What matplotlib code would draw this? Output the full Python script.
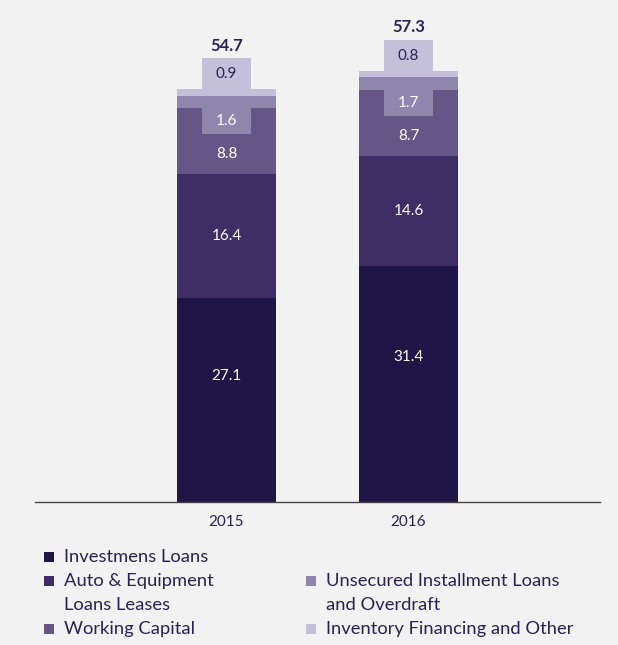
import matplotlib.pyplot as plt
from matplotlib.patches import Rectangle

# loan portfolio by segment, billions
years = ['2015', '2016']
investment_loans = [27.1, 31.4]
auto_equipment = [16.4, 14.6]
working_capital = [8.8, 8.7]
unsecured_installment = [1.6, 1.7]
inventory_other = [0.9, 0.8]
totals = [54.7, 57.3]

series = [investment_loans, auto_equipment, working_capital,
          unsecured_installment, inventory_other]
colors = ['#1f1547', '#3d2e66', '#645787', '#8f86ae', '#c5c0d9']
text_colors = ['white', 'white', 'white', 'white', '#2a2152']
legend_labels = ['Investmens Loans', 'Auto & Equipment\nLoans Leases', 'Working Capital',
                 'Unsecured Installment Loans\nand Overdraft', 'Inventory Financing and Other']

plt.rcParams['font.family'] = ['Lato', 'DejaVu Sans']
bg = '#f2f2f2'
ink = '#2a2152'

fig = plt.figure(figsize=(6.18, 6.45), dpi=100, facecolor=bg)
W, H = 618, 645
ax = fig.add_axes([35 / W, (H - 502) / H, 565 / W, 482 / H], facecolor=bg)

x = [0, 1]
width = 0.544
box_w = 0.27
low_box = 3.4   # label box under the unsecured segment
top_box = 4.1   # label box on top of the stack

bottoms = [0.0, 0.0]
for i, vals in enumerate(series):
    ax.bar(x, vals, width, bottom=bottoms, color=colors[i], linewidth=0)
    for j, v in enumerate(vals):
        b = bottoms[j]
        if i == 0:
            ax.text(x[j], b + v * 0.615, f'{v}', ha='center', va='center',
                    color=text_colors[i], fontsize=11)
        elif i == 1:
            ax.text(x[j], b + v / 2, f'{v}', ha='center', va='center',
                    color=text_colors[i], fontsize=11)
        elif i == 2:
            # centre in the part left visible below the unsecured label box
            y_mid = (b + (b + v - low_box)) / 2
            ax.text(x[j], y_mid, f'{v}', ha='center', va='center',
                    color=text_colors[i], fontsize=11)
        elif i == 3:
            ax.add_patch(Rectangle((x[j] - box_w / 2, b - low_box), box_w, low_box,
                                   color=colors[i], linewidth=0))
            ax.text(x[j], b - low_box / 2, f'{v}', ha='center', va='center',
                    color=text_colors[i], fontsize=11)
        else:
            top = b + v
            ax.add_patch(Rectangle((x[j] - box_w / 2, top), box_w, top_box,
                                   color=colors[i], linewidth=0))
            ax.text(x[j], top + top_box / 2, f'{v}', ha='center', va='center',
                    color=text_colors[i], fontsize=11)
        bottoms[j] += v

for j, t in enumerate(totals):
    ax.text(x[j], t + top_box + 1.7, f'{t}', ha='center', va='center',
            color=ink, fontsize=12, fontweight='bold')

ax.set_xlim(-1.052, 2.052)
ax.set_ylim(0, 64.0)
ax.set_xticks(x)
ax.set_xticklabels(years, fontsize=11, color=ink)
ax.tick_params(axis='x', length=0, pad=9)
ax.set_yticks([])
for s in ['top', 'right', 'left']:
    ax.spines[s].set_visible(False)
ax.spines['bottom'].set_color('#444444')
ax.spines['bottom'].set_linewidth(1.0)

# legend drawn by hand in two columns, one text per line
row_y = [557, 581, 605, 629]
legend_slots = [(44, 0), (44, 1), (44, 3), (306, 1), (306, 3)]
for (lx, r), c, lab in zip(legend_slots, colors, legend_labels):
    ly = row_y[r]
    fig.patches.append(Rectangle((lx / W, (H - ly - 5) / H), 10 / W, 10 / H,
                                 transform=fig.transFigure, color=c, linewidth=0))
    for k, line in enumerate(lab.split('\n')):
        fig.text((lx + 20) / W, (H - row_y[r + k]) / H, line, ha='left', va='center',
                 color=ink, fontsize=13.2, transform=fig.transFigure)

fig.savefig('out.png', dpi=100, facecolor=bg)
